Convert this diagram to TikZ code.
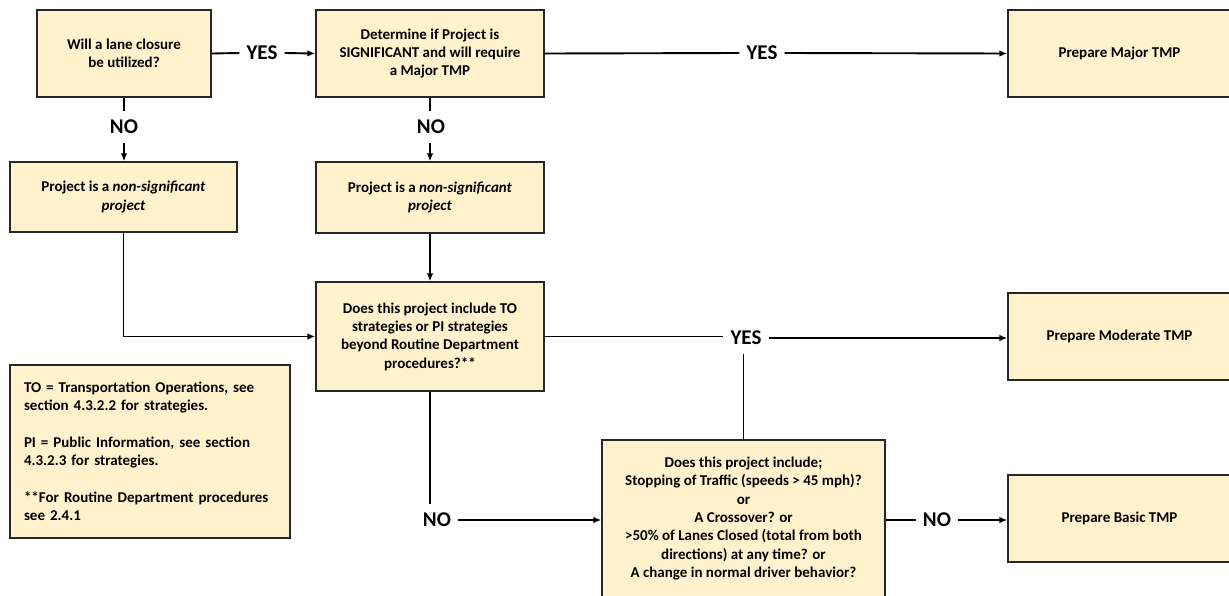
\documentclass[tikz,border=0pt]{standalone}
\usepackage{fontspec}
\setmainfont{Carlito}
\usetikzlibrary{arrows.meta}
\definecolor{boxfill}{HTML}{FFF2CC}
\definecolor{boxline}{HTML}{262626}
\begin{document}
\begin{tikzpicture}[x=1pt,y=-1pt,
  box/.style={draw=boxline, line width=1.3pt, fill=boxfill, align=center,
    font=\fontsize{15}{18.3}\selectfont\bfseries, inner sep=0pt},
  lbl/.style={font=\fontsize{21}{24}\selectfont\bfseries, inner xsep=7pt, inner ysep=9pt},
  conn/.style={line width=1.9pt},
  arr/.style={conn, -{Latex[length=8pt,width=6.5pt]}}]
\useasboundingbox (0,0) rectangle (1229,595);

% boxes
\node[box, minimum width=174pt, minimum height=87pt] (A) at (124,53.5) {Will a lane closure\\be utilized?};
\node[box, minimum width=228pt, minimum height=87pt] (B) at (430,53.5) {Determine if Project is\\SIGNIFICANT and will require\\a Major TMP};
\node[box, minimum width=227pt, minimum height=70pt] (C) at (123.5,197) {Project is a \textit{non-significant}\\\textit{project}};
\node[box, minimum width=228pt, minimum height=71pt] (D) at (430,197.5) {Project is a \textit{non-significant}\\\textit{project}};
\node[box, minimum width=228pt, minimum height=109pt] (E) at (430,336.5) {Does this project include TO\\strategies or PI strategies\\beyond Routine Department\\procedures?**};
\node[box, minimum width=283pt, minimum height=157pt] (F) at (743.5,518.5) {Does this project include;\\Stopping of Traffic (speeds > 45 mph)?\\or\\A Crossover? or\\>50\% of Lanes Closed (total from both\\directions) at any time? or\\A change in normal driver behavior?};
\node[box, minimum width=223pt, minimum height=87pt] (G) at (1119.5,53.5) {Prepare Major TMP};
\node[box, minimum width=223pt, minimum height=87pt] (H) at (1119.5,336.5) {Prepare Moderate TMP};
\node[box, minimum width=223pt, minimum height=87pt] (I) at (1119.5,518.5) {Prepare Basic TMP};
\node[box, minimum width=280pt, minimum height=173pt, align=left, text width=252pt] (L) at (150,451.5) {TO = Transportation Operations, see\\section 4.3.2.2 for strategies.\\[18.3pt]PI = Public Information, see section\\4.3.2.3 for strategies.\\[18.3pt]**For Routine Department procedures\\see 2.4.1};

% labels
\node[lbl] (Y1) at (262,53) {YES};
\node[lbl] (N1) at (124,127) {NO};
\node[lbl] (N2) at (431,127) {NO};
\node[lbl] (Y2) at (762,53) {YES};
\node[lbl] (Y3) at (746,338) {YES};
\node[lbl] (N3) at (437,520) {NO};
\node[lbl] (N4) at (937,520) {NO};

% connectors
\draw[conn] (A.east) -- (Y1.west);
\draw[arr] (Y1.east) -- (B.west);
\draw[conn] (A.south) -- (N1.north);
\draw[arr] (N1.south) -- (N1.south |- C.north);
\draw[conn] (B.east) -- (Y2.west);
\draw[arr] (Y2.east) -- (G.west);
\draw[conn] (B.south) -- (B.south |- N2.north);
\draw[arr] (B.south |- N2.south) -- (D.north);
\draw[arr] (C.south) |- (E.west);
\draw[arr] (D.south) -- (E.north);
\draw[conn] (E.east) -- (E.east -| Y3.west);
\draw[arr] (Y3.east) -- (Y3.east -| H.west);
\draw[conn] (F.north) -- (F.north |- Y3.south);
\draw[conn] (E.south) -- (E.south |- N3.north);
\draw[arr] (N3.east) -- (N3.east -| F.west);
\draw[conn] (F.east |- N4.west) -- (N4.west);
\draw[arr] (N4.east) -- (N4.east -| I.west);
\end{tikzpicture}
\end{document}
